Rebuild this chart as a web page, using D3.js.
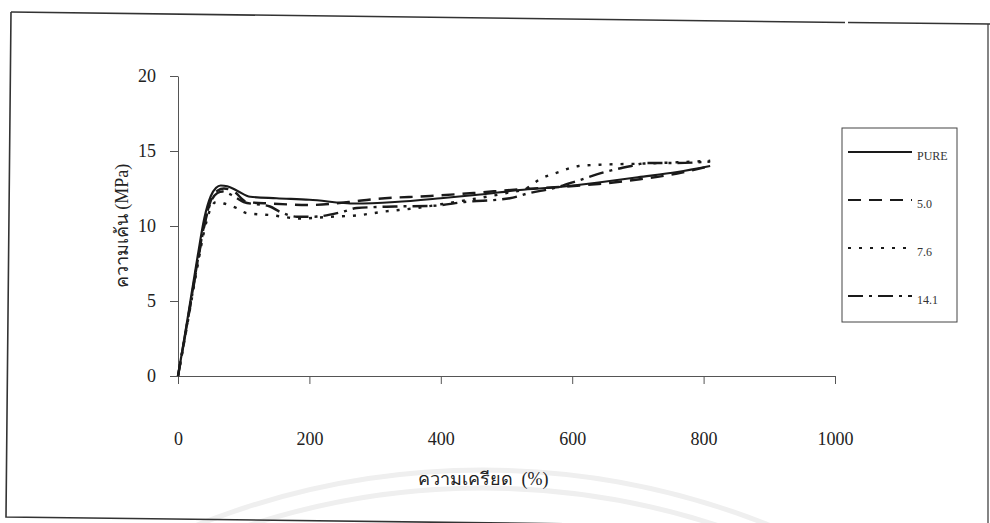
<!DOCTYPE html>
<html>
<head>
<meta charset="utf-8">
<script src="https://cdn.jsdelivr.net/npm/d3@7/dist/d3.min.js"></script>
<style>
  html, body { margin: 0; padding: 0; background: #fff; }
  svg { display: block; }
  .tick text { font-family: "Liberation Serif", "Times New Roman", serif; }
</style>
</head>
<body>
<svg id="chart" width="990" height="523"></svg>
<script>
// Stress–strain curves for the neat resin and three filler loadings
const seriesNames = ["PURE", "5.0", "7.6", "14.1"];

const strainPure  = [0, 10, 20, 30, 40, 50, 58, 65, 75, 90, 110, 150, 200, 270, 330, 400, 460, 520, 580, 640, 700, 760, 810];
const stressPure  = [0, 2.6, 5.3, 8.0, 10.5, 12.0, 12.55, 12.7, 12.65, 12.35, 11.95, 11.85, 11.75, 11.5, 11.6, 11.85, 12.1, 12.4, 12.6, 12.9, 13.25, 13.6, 14.0];

const strain50    = [0, 10, 20, 30, 40, 50, 60, 70, 85, 105, 140, 200, 260, 300, 384, 450, 520, 580, 640, 700, 760, 810];
const stress50    = [0, 2.5, 5.1, 7.7, 10.1, 11.7, 12.35, 12.5, 12.3, 11.6, 11.5, 11.4, 11.6, 11.8, 12.0, 12.2, 12.45, 12.6, 12.8, 13.1, 13.5, 14.0];

const strain76    = [0, 10, 20, 30, 40, 50, 58, 70, 89, 105, 140, 186, 226, 277, 312, 363, 400, 450, 500, 530, 550, 580, 610, 650, 700, 760, 810];
const stress76    = [0, 2.4, 4.9, 7.4, 9.7, 11.2, 11.6, 11.5, 11.2, 10.85, 10.73, 10.5, 10.6, 10.73, 10.95, 11.2, 11.45, 11.8, 12.2, 12.5, 13.1, 13.6, 14.0, 14.1, 14.15, 14.25, 14.35];

const strain141   = [0, 10, 20, 30, 40, 50, 60, 68, 80, 100, 140, 155, 181, 206, 251, 272, 330, 389, 436, 505, 535, 570, 612, 650, 690, 714, 760, 810];
const stress141   = [0, 2.5, 5.0, 7.6, 10.0, 11.6, 12.2, 12.3, 12.1, 11.6, 11.3, 10.95, 10.62, 10.62, 10.95, 11.2, 11.3, 11.35, 11.6, 11.85, 12.2, 12.5, 13.07, 13.6, 14.0, 14.2, 14.2, 14.3];

const xTicks = [0, 200, 400, 600, 800, 1000];
const yTicks = [0, 5, 10, 15, 20];

const xTitle = "ความเครียด  (%)";
const yTitle = "ความเค้น (MPa)";

const dashes = ["none", "13,8", "3,8", "15,6,3,6"];

const strains = [strainPure, strain50, strain76, strain141];
const stresses = [stressPure, stress50, stress76, stress141];

const svg = d3.select("#chart");

// faint arcs of the paper's watermark
const arcs = svg.append("g").attr("fill", "none").attr("stroke", "#efefef").attr("stroke-width", 5);
[770, 752].forEach(r => arcs.append("circle").attr("cx", 483).attr("cy", 1240).attr("r", r));

// outer frame, slightly skewed like a scanned page
const frame = svg.append("g").attr("fill", "none").attr("stroke", "#333").attr("stroke-width", 1.6);
frame.append("path").attr("d", "M11,12 L845,22.5");
frame.append("path").attr("d", "M848,22.5 L990,24");
frame.append("path").attr("d", "M11,12 L6,517 L990,529");
frame.append("path").attr("d", "M988,24 L988,529").attr("stroke-width", 1.2);

const x = d3.scaleLinear().domain([0, 1000]).range([178, 835]);
const y = d3.scaleLinear().domain([0, 20]).range([376, 76]);

// axes
const xAxis = svg.append("g")
  .attr("transform", `translate(0,${y(0)})`)
  .call(d3.axisBottom(x).tickValues(xTicks).tickSize(8).tickPadding(48).tickSizeOuter(0).tickFormat(d3.format("d")));
const yAxis = svg.append("g")
  .attr("transform", `translate(${x(0)},0)`)
  .call(d3.axisLeft(y).tickValues(yTicks).tickSize(8).tickPadding(14).tickSizeOuter(0));

[xAxis, yAxis].forEach(a => {
  a.select(".domain").attr("stroke", "#555").attr("stroke-width", 1);
  a.selectAll(".tick line").attr("stroke", "#555").attr("stroke-width", 1);
  a.selectAll(".tick text").attr("font-size", 18).attr("fill", "#222");
});

// axis titles
svg.append("text")
  .attr("x", 483).attr("y", 485)
  .attr("text-anchor", "middle")
  .attr("font-family", "'Liberation Serif', serif")
  .attr("font-size", 18).attr("fill", "#222")
  .style("white-space", "pre")
  .text(xTitle);
svg.append("text")
  .attr("transform", "translate(128,226) rotate(-90)")
  .attr("text-anchor", "middle")
  .attr("font-family", "'Liberation Serif', serif")
  .attr("font-size", 18).attr("fill", "#222")
  .text(yTitle);

// curves
const line = d3.line().x(d => x(d[0])).y(d => y(d[1])).curve(d3.curveMonotoneX);
seriesNames.forEach((name, i) => {
  const pts = strains[i].map((s, k) => [s, stresses[i][k]]);
  svg.append("path")
    .datum(pts)
    .attr("fill", "none")
    .attr("stroke", "#1a1a1a")
    .attr("stroke-width", i === 0 ? 2.2 : 2.4)
    .attr("stroke-dasharray", dashes[i])
    .attr("d", line);
});

// legend
const legend = svg.append("g");
legend.append("rect")
  .attr("x", 842).attr("y", 128).attr("width", 115).attr("height", 194)
  .attr("fill", "#fff").attr("stroke", "#444").attr("stroke-width", 1);
const legendRows = [152, 200, 248, 296];
seriesNames.forEach((name, i) => {
  legend.append("line")
    .attr("x1", 848).attr("x2", 912)
    .attr("y1", legendRows[i]).attr("y2", legendRows[i])
    .attr("stroke", "#1a1a1a").attr("stroke-width", 2)
    .attr("stroke-dasharray", dashes[i]);
  legend.append("text")
    .attr("x", 917).attr("y", legendRows[i] + 8)
    .attr("font-family", "'Liberation Serif', serif")
    .attr("font-size", 12).attr("fill", "#333")
    .text(name);
});
</script>
</body>
</html>
